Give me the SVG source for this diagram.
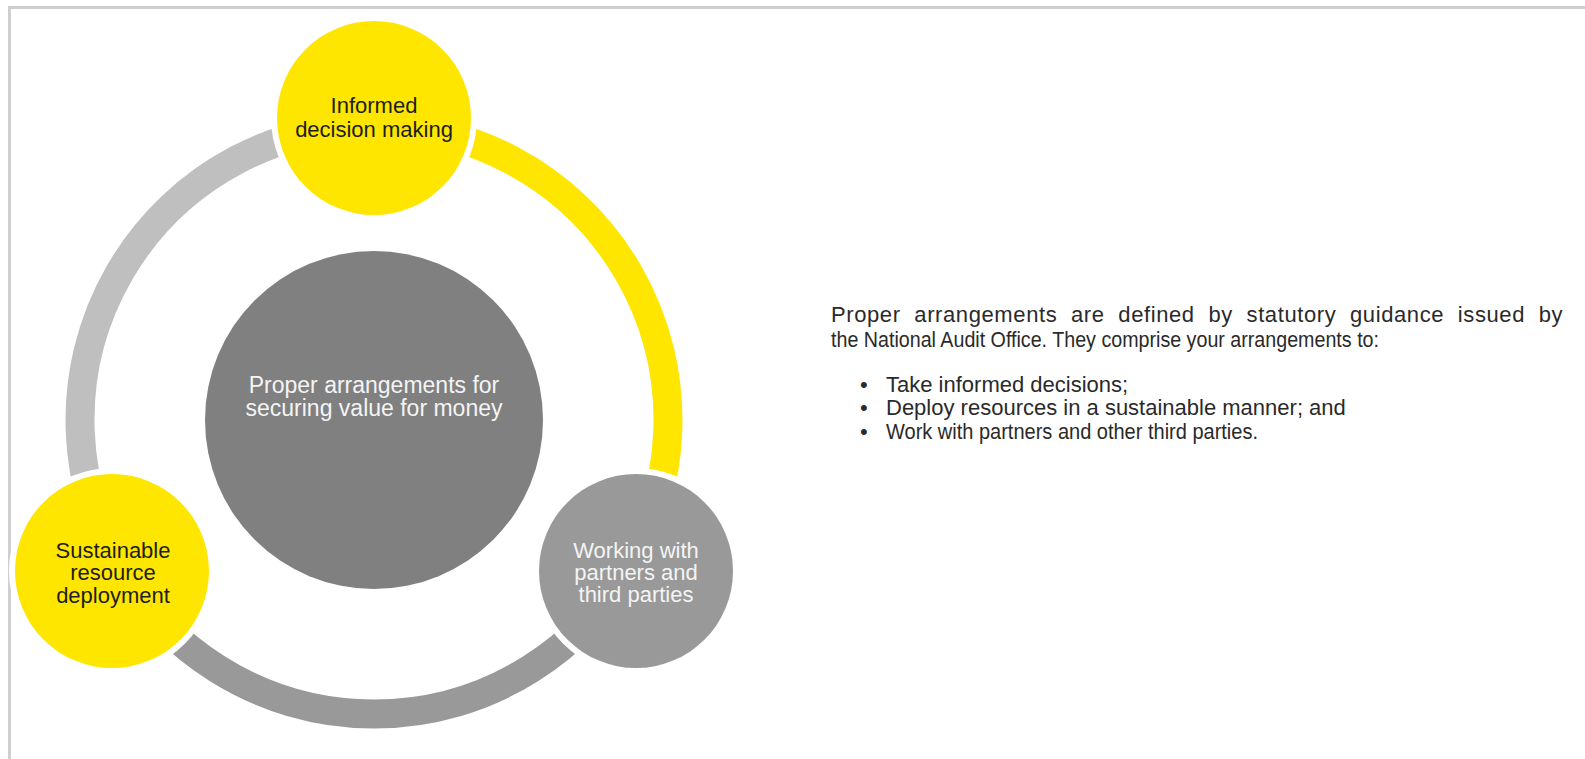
<svg xmlns="http://www.w3.org/2000/svg" width="1585" height="759" viewBox="0 0 1585 759">
  <style>
    .lbl { font-family: "Liberation Sans", Arial, sans-serif; font-size: 22px; text-anchor: middle; }
    .dark { fill: #1e1e1e; }
    .light { fill: #f4f4f4; }
    .body { font-family: "Liberation Sans", Arial, sans-serif; font-size: 22px; fill: #2a2a2a; }
    .ring { fill: none; stroke-width: 29; }
    .gap { fill: #ffffff; }
  </style>
  <rect x="0" y="0" width="1585" height="759" fill="#ffffff"/>
  <path d="M9.5,759 V7.5 H1585" fill="none" stroke="#cfcfcf" stroke-width="3"/>

  <g id="connectors">
    <path class="ring" stroke="#FFE600" d="M374,126 A294,294 0 0 1 628.6,567"/>
    <path class="ring" stroke="#999999" d="M628.6,567 A294,294 0 0 1 119.4,567"/>
    <path class="ring" stroke="#BFBFBF" d="M119.4,567 A294,294 0 0 1 374,126"/>
  </g>

  <g id="center">
    <circle cx="374" cy="420" r="169" fill="#808080"/>
    <text class="lbl light" style="font-size:23px" x="374" y="393">Proper arrangements for</text>
    <text class="lbl light" style="font-size:23px" x="374" y="416">securing value for money</text>
  </g>

  <g id="informed">
    <circle class="gap" cx="374" cy="118" r="103"/>
    <circle cx="374" cy="118" r="97" fill="#FFE600"/>
    <text class="lbl dark" x="374" y="113">Informed</text>
    <text class="lbl dark" x="374" y="137">decision making</text>
  </g>

  <g id="sustainable">
    <circle class="gap" cx="112" cy="571" r="103"/>
    <circle cx="112" cy="571" r="97" fill="#FFE600"/>
    <text class="lbl dark" x="113" y="558">Sustainable</text>
    <text class="lbl dark" x="113" y="580">resource</text>
    <text class="lbl dark" x="113" y="603">deployment</text>
  </g>

  <g id="working">
    <circle class="gap" cx="636" cy="571" r="103"/>
    <circle cx="636" cy="571" r="97" fill="#999999"/>
    <text class="lbl light" x="636" y="558">Working with</text>
    <text class="lbl light" x="636" y="580">partners and</text>
    <text class="lbl light" x="636" y="602">third parties</text>
  </g>

  <g id="description">
    <text class="body" x="831" y="322" word-spacing="7" letter-spacing="0.6">Proper arrangements are defined by statutory guidance issued by</text>
    <text class="body" x="831" y="347" textLength="548" lengthAdjust="spacingAndGlyphs">the National Audit Office. They comprise your arrangements to:</text>
    <text class="body" x="860" y="392">•</text>
    <text class="body" x="886" y="392">Take informed decisions;</text>
    <text class="body" x="860" y="415">•</text>
    <text class="body" x="886" y="415">Deploy resources in a sustainable manner; and</text>
    <text class="body" x="860" y="439">•</text>
    <text class="body" x="886" y="439" textLength="372" lengthAdjust="spacingAndGlyphs">Work with partners and other third parties.</text>
  </g>
</svg>
